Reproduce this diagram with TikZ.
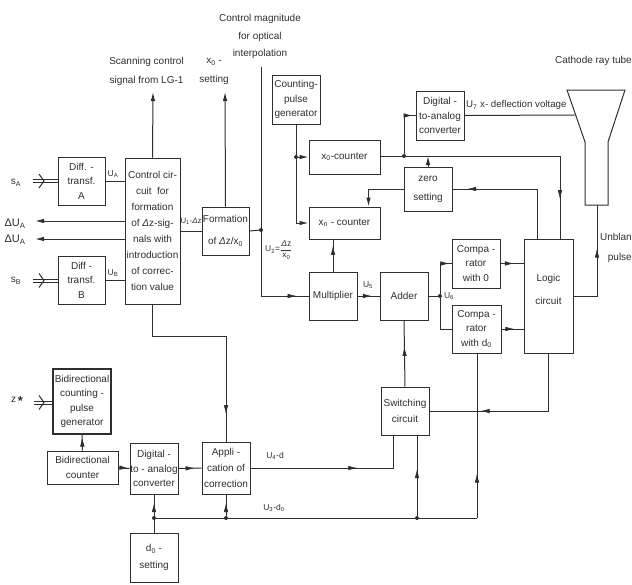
\documentclass[tikz,border=0pt]{standalone}
\usepackage{fontspec}
\setmainfont{Liberation Sans}
\usetikzlibrary{arrows.meta, decorations.markings}

\definecolor{inkgray}{HTML}{2E2E2E}
\newcommand{\chevr}[1]{\draw[wire] ([shift={(-5,-7)}]#1) -- (#1) -- ([shift={(-5,7)}]#1);}
\newcommand{\fracdz}{$\displaystyle\frac{\hbox{\fontsize{8.5}{8.5}\selectfont\textit{Δ}z}}{\hbox{\fontsize{8.5}{8.5}\selectfont x\textsubscript{0}}}$}

\begin{document}
\begin{tikzpicture}[x=1pt, y=-1pt, >={Latex[length=9pt,width=4.5pt]}, color=inkgray,
  box/.style={draw=inkgray, line width=1pt, inner sep=0pt, align=center, text=inkgray,
    font=\fontsize{10}{14.5}\selectfont},
  wire/.style={draw=inkgray, line width=1pt},
  txt/.style={inner sep=0pt, align=center, text=inkgray, font=\fontsize{10}{19}\selectfont},
  sig/.style={inner sep=0pt, text=inkgray, font=\fontsize{8.5}{9}\selectfont},
  arrowat/.style={postaction={decorate}, decoration={markings, mark=at position #1 with {\arrow[line width=0.6pt]{Latex[length=9pt,width=4.5pt]}}}},
  dot/.style={circle, fill=inkgray, inner sep=0pt, minimum size=4pt}]
  \useasboundingbox (0,0) rectangle (632,584);

  % blocks
  \node[box, minimum width=47pt, minimum height=48pt] (diffa) at (81.5,181) {Diff. -\\transf.\\A};
  \node[box, minimum width=47pt, minimum height=48pt] (diffb) at (81.5,280) {Diff -\\transf.\\B};
  \node[box, minimum width=55pt, minimum height=146pt, font=\fontsize{10}{16}\selectfont] (ctrl) at (152.5,231)
    {Control cir-\\cuit\ \ for\\formation\\of \textit{Δ}z-sig-\\nals with\\introduction\\of correc-\\tion value};
  \node[box, minimum width=47pt, minimum height=48pt, font=\fontsize{10}{22}\selectfont] (form) at (225.5,231) {Formation\\of \textit{Δ}z/x\textsubscript{0}};
  \node[box, minimum width=48pt, minimum height=49pt] (pulsegen) at (296,99.5) {Counting-\\pulse\\generator};
  \node[box, minimum width=71pt, minimum height=34pt] (xzero) at (344.5,157) {x\textsubscript{0}-counter};
  \node[box, minimum width=71pt, minimum height=32pt] (xn) at (344.5,223) {x\textsubscript{n} - counter};
  \node[box, minimum width=48pt, minimum height=48pt] (mult) at (333,296) {Multiplier};
  \node[box, minimum width=48pt, minimum height=48pt] (adder) at (404,296) {Adder};
  \node[box, minimum width=48pt, minimum height=49pt] (dactop) at (440,115.5) {Digital -\\to-analog\\converter};
  \node[box, minimum width=48pt, minimum height=44pt, font=\fontsize{10}{19}\selectfont] (zero) at (428,189) {zero\\setting};
  \node[box, minimum width=48pt, minimum height=49pt] (compzero) at (476,263.5) {Compa -\\rator\\with 0};
  \node[box, minimum width=49pt, minimum height=48pt] (compd) at (476.5,329) {Compa -\\rator\\with d\textsubscript{0}};
  \node[box, minimum width=49pt, minimum height=114pt,
    label={[txt, font=\fontsize{10}{23}\selectfont, yshift=6.5pt]center:{Logic\\circuit}}] (logic) at (548.5,296) {};
  \node[box, minimum width=48pt, minimum height=48pt, font=\fontsize{10}{16}\selectfont] (switch) at (405,411) {Switching\\circuit};
  \node[box, line width=1.4pt, minimum width=58pt, minimum height=65pt] (bigen) at (82,401.5) {Bidirectional\\counting -\\pulse\\generator};
  \node[box, minimum width=71pt, minimum height=33pt] (bicnt) at (82.5,467.5) {Bidirectional\\counter};
  \node[box, minimum width=48pt, minimum height=51pt] (daclow) at (154,468.5) {Digital -\\to - analog\\converter};
  \node[box, minimum width=48pt, minimum height=52pt, font=\fontsize{10}{16}\selectfont] (appl) at (226,468) {Appli -\\cation of\\correction};
  \node[box, minimum width=48pt, minimum height=49pt, font=\fontsize{10}{17}\selectfont] (dset) at (154,557.5) {d\textsubscript{0} -\\setting};
  \draw[wire] (567,90) -- (625,90) -- (608,142) -- (608,205) -- (585,205) -- (585,142) -- cycle;
  \coordinate (crtleft) at (574.5,115);
  \coordinate (crtbot) at (597,205);

  % free labels
  \node[txt] (sa) at (16,183) {s\textsubscript{A}};
  \node[txt] (sb) at (16,281) {s\textsubscript{B}};
  \node[txt] (zstar) at (17,401) {z\,\raisebox{-2.5pt}{\fontsize{13}{13}\selectfont\textbf{*}}};
  \node[txt, font=\fontsize{11}{12}\selectfont] (dua) at (15,224) {ΔU\textsubscript{A}};
  \node[txt, font=\fontsize{11}{12}\selectfont] (dub) at (15,240) {ΔU\textsubscript{A}};
  \node[txt] (scan) at (146.5,71) {Scanning control\\signal from LG-1};
  \node[txt] (xset) at (214,71.5) {x\textsubscript{0} -\\setting};
  \node[txt, font=\fontsize{10}{17.5}\selectfont] (magn) at (260,36.5) {Control magnitude\\for optical\\interpolation};
  \node[txt, anchor=east] (crt) at (632,61) {Cathode ray tube};
  \node[txt, anchor=east, font=\fontsize{10}{20}\selectfont, align=right] (unbl) at (632,248) {Unblan\\pulse};
  \node[sig] (ua) at (113,174) {U\textsubscript{A}};
  \node[sig] (ub) at (113,273) {U\textsubscript{B}};
  \node[sig, font=\fontsize{7.8}{9}\selectfont] (uone) at (191,221) {U\textsubscript{1}-\textit{Δ}z};
  \node[sig, anchor=west] (utwo) at (265,250) {U\textsubscript{2}=\fracdz};
  \node[sig] (ufive) at (368,285) {U\textsubscript{5}};
  \node[sig] (usix) at (449,296) {U\textsubscript{6}};
  \node[sig, anchor=west, font=\fontsize{9.7}{10}\selectfont] (useven) at (466,105) {U\textsubscript{7} x- deflection voltage};
  \node[sig] (ufour) at (275,456) {U\textsubscript{4}-d};
  \node[sig] (uthree) at (274,508) {U\textsubscript{3}-d\textsubscript{0}};

  % junctions and bends
  \coordinate (magnend) at (261,67);
  \node[dot] (formdot) at (261,230) {};
  \node[dot] (xzerodot) at (296,157) {};
  \node[dot] (bussplit) at (404,156) {};
  \node[dot] (sixdot) at (440,296) {};
  \node[dot] (busa) at (154,518) {};
  \node[dot] (busb) at (226,518) {};
  \node[dot] (busc) at (417,518) {};
  \coordinate (busend) at (477,518);
  \coordinate (scanend) at (153,92);
  \coordinate (xsetend) at (225,92);
  \coordinate (duaend) at (35,221);
  \coordinate (dubend) at (35,239);

  % input pairs
  \draw[wire] (33,179.5) -- (58,179.5) (33,182.5) -- (58,182.5);
  \draw[wire] (33,279) -- (58,279) (33,282) -- (58,282);
  \draw[wire] (34,401) -- (53,401) (34,404) -- (53,404);
  \coordinate (cha) at (44,181);
  \coordinate (chb) at (44,280.5);
  \coordinate (chz) at (44,402.5);
  \chevr{cha} \chevr{chb} \chevr{chz}

  % connectors
  \draw[wire] (diffa.east) -- (ctrl.west |- diffa.east);
  \draw[wire] (diffb.east) -- (ctrl.west |- diffb.east);
  \draw[wire, ->] (ctrl.north) -- (scanend);
  \draw[wire, ->] (form.north) -- (xsetend);
  \draw[wire, ->] (ctrl.west |- duaend) -- (duaend);
  \draw[wire, ->] (ctrl.west |- dubend) -- (dubend);
  \draw[wire] (ctrl.east |- form.west) -- (form.west);
  \draw[wire] (form.east) -- (formdot);
  \draw[wire, arrowat=0.957] (magnend) |- (mult.west);
  \draw[wire, ->] (pulsegen.south) |- (xn.west);
  \draw[wire, ->] (xzerodot) -- (xzero.west);
  \draw[wire, arrowat=0.85] (xzero.east |- bussplit) -| ([xshift=11.5pt]logic.north);
  \draw[wire, arrowat=0.94] (bussplit) |- (dactop.west);
  \draw[wire, ->] (zero.north) -- (zero.north |- bussplit);
  \draw[wire, ->] (zero.west) -| ([xshift=24pt]xn.north);
  \draw[wire, arrowat=0.89] ([xshift=-11.5pt]logic.north) |- (zero.east);
  \draw[wire] (dactop.east) -- (crtleft);
  \draw[wire, arrowat=0.62] (logic.east) -| (crtbot);
  \draw[wire, arrowat=0.8] (mult.north) -- (xn.south -| mult.north);
  \draw[wire, arrowat=0.65] (mult.east) -- (adder.west);
  \draw[wire] (adder.east) -- (sixdot);
  \draw[wire, arrowat=0.95] (sixdot) |- (compzero.west);
  \draw[wire] (sixdot) |- (compd.west);
  \draw[wire, arrowat=0.58] (compzero.east) -- (logic.west |- compzero.east);
  \draw[wire, arrowat=0.58] (compd.east) -- (logic.west |- compd.east);
  \draw[wire, arrowat=0.71] (logic.south) |- (switch.east);
  \draw[wire, arrowat=0.6] (switch.north) -- (adder.south);
  \draw[wire, arrowat=0.61] (appl.east) -| ([xshift=-12pt]switch.south);
  \draw[wire, arrowat=0.27] (busend) -- (compd.south -| busend);
  \draw[wire, arrowat=0.58] (busc) -- (switch.south -| busc);
  \draw[wire] (busa) -- (busend);
  \draw[wire, arrowat=0.6] (busb) -- (appl.south);
  \draw[wire, arrowat=0.77] (dset.north) -- (daclow.south);
  \draw[wire, arrowat=0.87] (ctrl.south) |- (226,336) -- (appl.north);
  \draw[wire, arrowat=0.82] (bicnt.north) -- (bigen.south);
  \draw[wire, arrowat=0.9] (bicnt.east) -- (daclow.west);
  \draw[wire, arrowat=0.7] (daclow.east) -- (appl.west);
\end{tikzpicture}
\end{document}
